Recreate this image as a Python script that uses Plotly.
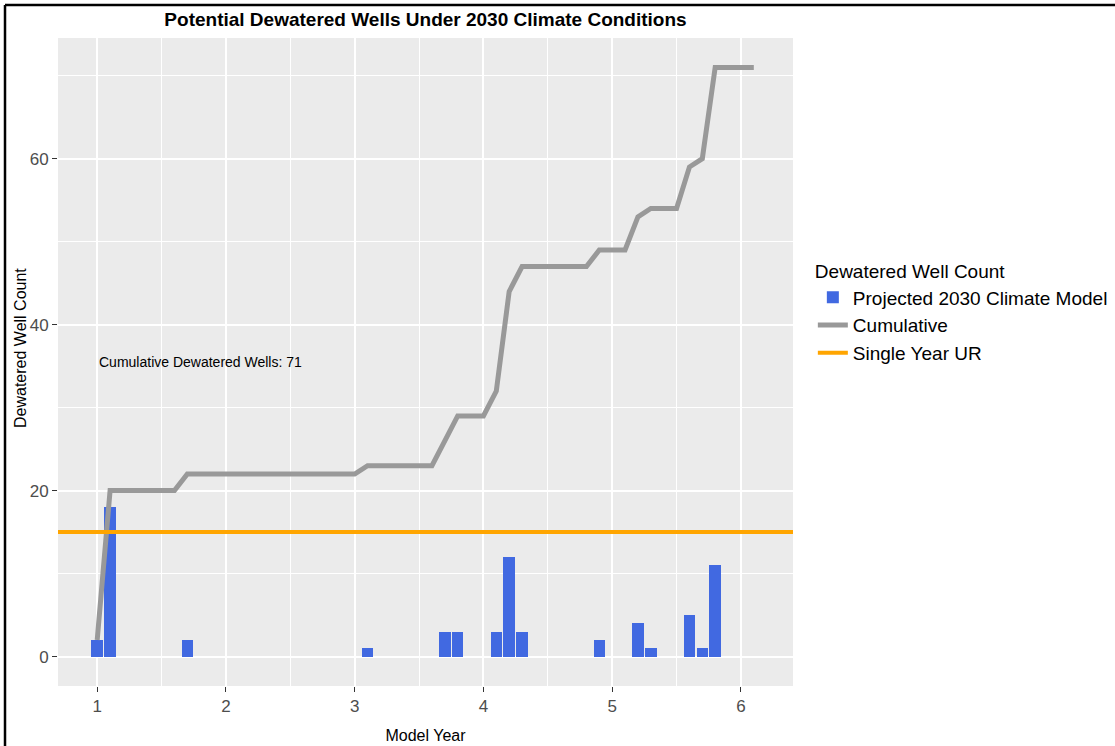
import plotly.graph_objects as go

# ---- data ----
model_year = [1.0, 1.1, 1.2, 1.3, 1.4, 1.5, 1.6, 1.7, 1.8, 1.9,
              2.0, 2.1, 2.2, 2.3, 2.4, 2.5, 2.6, 2.7, 2.8, 2.9,
              3.0, 3.1, 3.2, 3.3, 3.4, 3.5, 3.6, 3.7, 3.8, 3.9,
              4.0, 4.1, 4.2, 4.3, 4.4, 4.5, 4.6, 4.7, 4.8, 4.9,
              5.0, 5.1, 5.2, 5.3, 5.4, 5.5, 5.6, 5.7, 5.8, 5.9,
              6.0, 6.1]
well_count = [2, 18, 0, 0, 0, 0, 0, 2, 0, 0,
              0, 0, 0, 0, 0, 0, 0, 0, 0, 0,
              0, 1, 0, 0, 0, 0, 0, 3, 3, 0,
              0, 3, 12, 3, 0, 0, 0, 0, 0, 2,
              0, 0, 4, 1, 0, 0, 5, 1, 11, 0,
              0, 0]
cumulative = [2, 20, 20, 20, 20, 20, 20, 22, 22, 22,
              22, 22, 22, 22, 22, 22, 22, 22, 22, 22,
              22, 23, 23, 23, 23, 23, 23, 26, 29, 29,
              29, 32, 44, 47, 47, 47, 47, 47, 47, 49,
              49, 49, 53, 54, 54, 54, 59, 60, 71, 71,
              71, 71]
ur_threshold = 15
x_ticks = [1, 2, 3, 4, 5, 6]
y_ticks = [0, 20, 40, 60]
annotation_text = "Cumulative Dewatered Wells: 71"

FONT = "Liberation Sans, Arial, sans-serif"

fig = go.Figure()
fig.add_trace(go.Bar(
    x=model_year, y=well_count, width=0.09,
    name="Projected 2030 Climate Model",
    marker=dict(color="#4169E1", line=dict(width=0)),
))
fig.add_trace(go.Scatter(
    x=model_year, y=cumulative, mode="lines",
    name="Cumulative",
    line=dict(color="#999999", width=5),
))
fig.add_trace(go.Scatter(
    x=[None], y=[None], mode="lines",
    name="Single Year UR",
    line=dict(color="#FFA500", width=4),
))
fig.add_hline(y=ur_threshold, line=dict(color="#FFA500", width=4), layer="above")

fig.add_annotation(x=1.8, y=35.5, text=annotation_text, showarrow=False,
                   font=dict(family=FONT, size=14, color="black"),
                   xanchor="center", yanchor="middle")

# y-axis title as a rotated annotation for exact placement
fig.add_annotation(x=-0.0517, y=0.5216, xref="paper", yref="paper",
                   text="Dewatered Well Count", textangle=-90, showarrow=False,
                   font=dict(family=FONT, size=16, color="black"),
                   xanchor="center", yanchor="middle")

# outer frame lines (left and top)
fig.add_shape(type="line", xref="paper", yref="paper",
              x0=-0.0721, x1=-0.0721, y0=-0.2, y1=1.0509,
              line=dict(color="black", width=2.5), layer="above")
fig.add_shape(type="line", xref="paper", yref="paper",
              x0=-0.0721, x1=1.5, y0=1.0509, y1=1.0509,
              line=dict(color="black", width=2.5), layer="above")

fig.update_layout(
    width=1115, height=746,
    margin=dict(l=58, r=322, t=38, b=60, autoexpand=False),
    paper_bgcolor="white",
    plot_bgcolor="#EBEBEB",
    font=dict(family=FONT, color="black"),
    title=dict(text="<b>Potential Dewatered Wells Under 2030 Climate Conditions</b>",
               x=0.5, xref="paper", xanchor="center",
               y=1 - 19 / 746, yref="container", yanchor="middle",
               font=dict(family=FONT, size=19, color="black")),
    showlegend=True,
    legend=dict(x=1.027, y=0.667, xanchor="left", yanchor="top",
                title=dict(text="Dewatered Well Count", font=dict(size=19)),
                font=dict(family=FONT, size=19, color="black"),
                bgcolor="rgba(0,0,0,0)", traceorder="normal",
                itemwidth=30),
    bargap=0,
)
fig.update_xaxes(
    range=[0.6955, 6.4045], tickvals=x_ticks, ticktext=[str(v) for v in x_ticks],
    showgrid=True, gridcolor="white", gridwidth=1.6,
    minor=dict(dtick=0.5, showgrid=True, gridcolor="white", gridwidth=0.9),
    zeroline=False, showline=False,
    ticks="outside", ticklen=5, tickcolor="#333333", tickwidth=1,
    tickfont=dict(family=FONT, size=17, color="#4D4D4D"),
    title=dict(text="Model Year", font=dict(family=FONT, size=16, color="black"), standoff=14),
)
fig.update_yaxes(
    range=[-3.55, 74.55], tickvals=y_ticks, ticktext=[str(v) for v in y_ticks],
    showgrid=True, gridcolor="white", gridwidth=1.6,
    minor=dict(dtick=10, showgrid=True, gridcolor="white", gridwidth=0.9),
    zeroline=False, showline=False,
    ticks="outside", ticklen=5, tickcolor="#333333", tickwidth=1,
    tickfont=dict(family=FONT, size=17, color="#4D4D4D"),
)

fig.write_html("out.html", config={"displayModeBar": False},
               post_script="document.body.style.margin='0';")
